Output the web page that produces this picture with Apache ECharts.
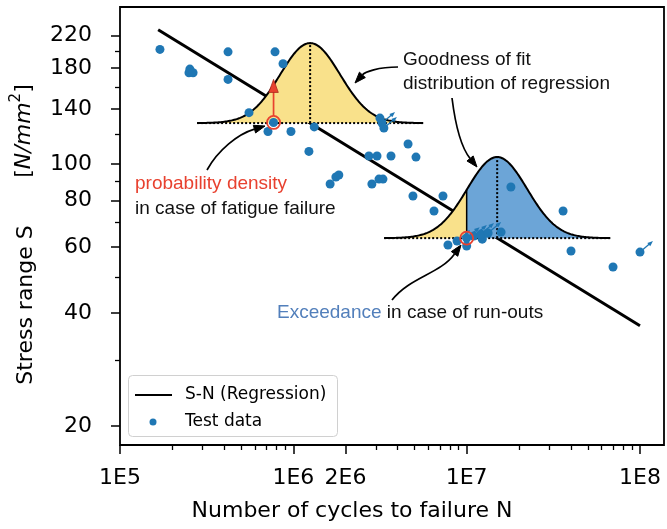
<!DOCTYPE html>
<html><head><meta charset="utf-8">
<script src="https://cdn.jsdelivr.net/npm/echarts@6/dist/echarts.min.js"></script>
<style>html,body{margin:0;padding:0;background:#fff}#c{width:667px;height:529px}</style>
</head><body><div id="c"></div>
<script>
// ---------------- data ----------------
const xLabelValues = [1e5, 1e6, 2e6, 1e7, 1e8];
const xMinorTicks = [2e5,3e5,4e5,5e5,6e5,7e5,8e5,9e5,3e6,4e6,5e6,6e6,7e6,8e6,9e6,2e7,3e7,4e7,5e7,6e7,7e7,8e7,9e7];
const yLabelValues = [20, 40, 60, 80, 100, 140, 180, 220];
const yMinorTicks = [30, 50, 70, 90, 120, 160, 200];

// failures (cycles N, stress range S)
const failN = [1.70e5,2.53e5,2.50e5,2.64e5,4.20e5,4.20e5,7.84e5,8.72e5,5.55e5,7.69e5,
               7.14e5,9.69e5,1.32e6,1.23e6,1.63e6,1.76e6,1.83e6,2.73e6,3.04e6,3.66e6,
               5.10e6,4.59e6,2.84e6,3.12e6,3.29e6,4.90e6,7.30e6,6.48e6,1.80e7,3.60e7,
               7.80e6,1.00e7,1.23e7,1.58e7,4.00e7,6.99e7,3.16e6];
const failS = [202,179,175,175,199,168,199,185,137,129,
               122,122,125.5,108,88.4,92.3,93.4,105,105,105,
               104.3,113,88.4,91.1,91.1,82.1,82.1,74.9,86.8,74.9,
               60.8,60.4,63.0,65.8,58.6,53.1,132.5];
// run-outs
const runN = [3.25e6,3.33e6,8.80e6,1.00e7,1.10e7,1.21e7,1.33e7,1.00e8];
const runS = [128.5,124.6,62.3,63.4,64.2,65.0,65.4,58.2];

// S-N regression line end points
const regN = [1.66e5, 1e8];
const regS = [228, 37];

// distribution curves (normal shape drawn along log N)
const bellTop = {meanN: 1.25e6, baseS: 128.5, peakS: 210, sigma: 0.173, half: 0.652};
const bellLow = {meanN: 1.5e7, baseS: 63.4, peakS: 104.3, sigma: 0.173, half: 0.652, splitN: 1e7};

// highlighted points
const redN = [7.69e5, 1.00e7];
const redS = [129, 63.4];
const redArrowTipS = 168;

// ---------------- styles ----------------
const FONT = "'DejaVu Sans'";
const AFONT = "'Liberation Sans', Arial";
const BLUE = '#1f77b4';
const YELLOW = '#f9e18b';
const FILLBLUE = '#6ca5d7';
const RED = '#e8412f';

const zip = (a, b) => a.map((v, i) => [v, b[i]]);

function bellRender(b, colors) {
  return function (params, api) {
    const lm = Math.log10(b.meanN), lb = Math.log10(b.baseS), lp = Math.log10(b.peakS);
    const curveAt = lx => [Math.pow(10, lx), Math.pow(10, lb + (lp - lb) * Math.exp(-0.5 * Math.pow((lx - lm) / b.sigma, 2)))];
    const l0 = lm - b.half, l1 = lm + b.half;
    const cuts = b.splitN ? [l0, Math.log10(b.splitN), l1] : [l0, l1];
    const children = [];
    for (let k = 0; k < cuts.length - 1; k++) {
      const a = cuts[k], c = cuts[k + 1];
      const pts = [api.coord([Math.pow(10, a), b.baseS])];
      const n = 80;
      for (let i = 0; i <= n; i++) pts.push(api.coord(curveAt(a + (c - a) * i / n)));
      pts.push(api.coord([Math.pow(10, c), b.baseS]));
      children.push({type: 'polygon', shape: {points: pts}, style: {fill: colors[k], stroke: null}});
    }
    const cpts = [];
    for (let i = 0; i <= 200; i++) cpts.push(api.coord(curveAt(l0 + (l1 - l0) * i / 200)));
    const p0 = api.coord([Math.pow(10, l0), b.baseS]), p1 = api.coord([Math.pow(10, l1), b.baseS]);
    children.push({type: 'line', shape: {x1: p0[0], y1: p0[1], x2: p1[0], y2: p1[1]},
      style: {stroke: '#000', lineWidth: 2, lineDash: [2, 2]}});
    const m0 = api.coord([b.meanN, b.baseS]), m1 = api.coord([b.meanN, b.peakS]);
    children.push({type: 'line', shape: {x1: m0[0], y1: m0[1], x2: m1[0], y2: m1[1]},
      style: {stroke: '#000', lineWidth: 2, lineDash: [2, 2]}});
    if (b.splitN) {
      const s0 = api.coord([b.splitN, b.baseS]), s1 = api.coord(curveAt(Math.log10(b.splitN)));
      children.push({type: 'line', shape: {x1: s0[0], y1: s0[1], x2: s1[0], y2: s1[1]},
        style: {stroke: '#000', lineWidth: 1.5}});
    }
    children.push({type: 'polyline', shape: {points: cpts}, style: {stroke: '#000', lineWidth: 2, fill: null}});
    return {type: 'group', children: children};
  };
}

function headPoly(tx, ty, fx, fy, len, w) {
  const dx = tx - fx, dy = ty - fy, L = Math.hypot(dx, dy) || 1;
  const ux = dx / L, uy = dy / L, bx = tx - ux * len, by = ty - uy * len;
  return [[tx, ty], [bx - uy * w / 2, by + ux * w / 2], [bx + uy * w / 2, by - ux * w / 2]];
}

function curvedArrow(x1, y1, c1x, c1y, c2x, c2y, x2, y2) {
  const hp = headPoly(x2, y2, c2x, c2y, 11, 8);
  const bx = (hp[1][0] + hp[2][0]) / 2, by = (hp[1][1] + hp[2][1]) / 2;
  return {type: 'group', children: [
    {type: 'bezierCurve', shape: {x1: x1, y1: y1, cpx1: c1x, cpy1: c1y, cpx2: c2x, cpy2: c2y, x2: bx, y2: by},
      style: {stroke: '#000', lineWidth: 1.7, fill: null}},
    {type: 'polygon', shape: {points: hp}, style: {fill: '#000', stroke: '#000', lineWidth: 1}}
  ]};
}

const chart = echarts.init(document.getElementById('c'), null, {renderer: 'canvas', width: 667, height: 529});

const commonX = {type: 'log', logBase: 10, min: 1e5, max: 1.3756e8, position: 'bottom', gridIndex: 0,
  splitLine: {show: false}, axisLine: {show: false}, minorTick: {show: false}};
const commonY = {type: 'log', logBase: 10, min: 17.80, max: 262.1, position: 'left', gridIndex: 0,
  splitLine: {show: false}, axisLine: {show: false}, minorTick: {show: false}};

const option = {
  animation: false,
  backgroundColor: '#fff',
  grid: {left: 120, top: 7, right: 3, bottom: 84, show: true, borderColor: '#000', borderWidth: 1.8,
    backgroundColor: 'transparent'},
  xAxis: [
    Object.assign({}, commonX, {
      axisTick: {show: true, length: 9, lineStyle: {color: '#000', width: 1.5}, customValues: xLabelValues},
      axisLabel: {show: true, customValues: xLabelValues, margin: 22, color: '#000', fontSize: 22, fontFamily: FONT,
        formatter: v => { const e = Math.floor(Math.log10(v) + 1e-9); return Math.round(v / Math.pow(10, e)) + 'E' + e; }}
    }),
    Object.assign({}, commonX, {
      axisTick: {show: true, length: 5, lineStyle: {color: '#000', width: 1.3}, customValues: xMinorTicks},
      axisLabel: {show: false}
    })
  ],
  yAxis: [
    Object.assign({}, commonY, {
      axisTick: {show: true, length: 9, lineStyle: {color: '#000', width: 1.5}, customValues: yLabelValues},
      axisLabel: {show: true, customValues: yLabelValues, margin: 28, color: '#000', fontSize: 22, fontFamily: FONT,
        formatter: v => String(Math.round(v))}
    }),
    Object.assign({}, commonY, {
      axisTick: {show: true, length: 5, lineStyle: {color: '#000', width: 1.3}, customValues: yMinorTicks},
      axisLabel: {show: false}
    })
  ],
  series: [
    {name: 'S-N (Regression)', type: 'line', xAxisIndex: 0, yAxisIndex: 0, z: 2,
      data: zip(regN, regS), symbol: 'none', lineStyle: {color: '#000', width: 3}},
    {type: 'custom', xAxisIndex: 0, yAxisIndex: 0, z: 3, silent: true,
      data: [[bellTop.meanN, bellTop.baseS]], renderItem: bellRender(bellTop, [YELLOW])},
    {type: 'custom', xAxisIndex: 0, yAxisIndex: 0, z: 3, silent: true,
      data: [[bellLow.meanN, bellLow.baseS]], renderItem: bellRender(bellLow, [YELLOW, FILLBLUE])},
    {name: 'Test data', type: 'scatter', xAxisIndex: 0, yAxisIndex: 0, z: 4,
      data: zip(failN, failS).concat(zip(runN, runS)), symbol: 'circle', symbolSize: 9,
      itemStyle: {color: BLUE, opacity: 1}},
    {type: 'custom', xAxisIndex: 0, yAxisIndex: 0, z: 4, silent: true, data: zip(runN, runS),
      renderItem: function (params, api) {
        const p = api.coord([api.value(0), api.value(1)]);
        const t = [p[0] + 13, p[1] - 11];
        return {type: 'group', children: [
          {type: 'line', shape: {x1: p[0], y1: p[1], x2: t[0] - 3, y2: t[1] + 2.5}, style: {stroke: BLUE, lineWidth: 1.3}},
          {type: 'polygon', shape: {points: headPoly(t[0], t[1], p[0], p[1], 5.5, 4.5)}, style: {fill: BLUE}}
        ]};
      }},
    {type: 'custom', xAxisIndex: 0, yAxisIndex: 0, z: 5, silent: true, data: zip(redN, redS),
      renderItem: function (params, api) {
        const p = api.coord([api.value(0), api.value(1)]);
        return {type: 'circle', shape: {cx: p[0], cy: p[1], r: 6.5}, style: {fill: null, stroke: RED, lineWidth: 1.8}};
      }},
    {type: 'custom', xAxisIndex: 0, yAxisIndex: 0, z: 5, silent: true, data: [[redN[0], redS[0], redArrowTipS]],
      renderItem: function (params, api) {
        const p = api.coord([api.value(0), api.value(1)]);
        const t = api.coord([api.value(0), api.value(2)]);
        return {type: 'group', children: [
          {type: 'line', shape: {x1: p[0], y1: p[1] - 6.5, x2: t[0], y2: t[1] + 12}, style: {stroke: RED, lineWidth: 1.7}},
          {type: 'polygon', shape: {points: headPoly(t[0], t[1], p[0], p[1], 13, 9.5)},
            style: {fill: RED, stroke: '#a8291c', lineWidth: 0.8}}
        ]};
      }}
  ],
  graphic: [
    // axis titles
    {type: 'text', x: 352, y: 511, style: {text: 'Number of cycles to failure N', fontSize: 22, fontFamily: FONT,
      fill: '#000', align: 'center', verticalAlign: 'middle'}},
    {type: 'text', x: 26, y: 305, rotation: Math.PI / 2, style: {text: 'Stress range S', fontSize: 22, fontFamily: FONT,
      fill: '#000', align: 'center', verticalAlign: 'middle'}},
    {type: 'text', x: 24, y: 131, rotation: Math.PI / 2, style: {
      text: '{n|[}{i|N/mm}{s|2}{n|]}', fontSize: 22, fontFamily: FONT, fill: '#000', align: 'center', verticalAlign: 'middle',
      rich: {
        n: {fontSize: 22, fontFamily: FONT, lineHeight: 30, fill: '#000'},
        i: {fontSize: 22, fontFamily: FONT, fontStyle: 'italic', lineHeight: 30, fill: '#000'},
        s: {fontSize: 15, fontFamily: FONT, lineHeight: 16, verticalAlign: 'top', fill: '#000'}
      }}},
    // annotations
    {type: 'text', x: 403, y: 60, style: {text: 'Goodness of fit', fontSize: 19, fontFamily: AFONT, fill: '#111', verticalAlign: 'middle'}},
    {type: 'text', x: 403, y: 84, style: {text: 'distribution of regression', fontSize: 19, fontFamily: AFONT, fill: '#111', verticalAlign: 'middle'}},
    {type: 'text', x: 135, y: 184, style: {text: 'probability density', fontSize: 19, fontFamily: AFONT, fill: RED, verticalAlign: 'middle'}},
    {type: 'text', x: 135, y: 209, style: {text: 'in case of fatigue failure', fontSize: 19, fontFamily: AFONT, fill: '#111', verticalAlign: 'middle'}},
    {type: 'text', x: 277, y: 313, style: {text: '{b|Exceedance} in case of run-outs', fontSize: 19, fontFamily: AFONT,
      fill: '#111', verticalAlign: 'middle', rich: {b: {fill: '#527fbb', fontSize: 19, fontFamily: AFONT}}}},
    curvedArrow(398, 67, 378, 67, 365, 72, 355, 83),
    curvedArrow(452, 98, 455, 122, 460, 146, 477, 167),
    curvedArrow(207, 170, 218, 150, 238, 134, 265, 126),
    curvedArrow(392, 300, 410, 277, 440, 274, 461, 245),
    // legend
    {type: 'rect', shape: {x: 128.5, y: 375.5, width: 209, height: 61, r: 4},
      style: {fill: 'rgba(255,255,255,0.85)', stroke: '#d0d0d0', lineWidth: 1}, z: 100},
    {type: 'line', shape: {x1: 135, y1: 395, x2: 172, y2: 395}, style: {stroke: '#000', lineWidth: 2}, z: 101},
    {type: 'circle', shape: {cx: 153, cy: 422, r: 3.5}, style: {fill: BLUE}, z: 101},
    {type: 'text', x: 185, y: 395, style: {text: 'S-N (Regression)', fontSize: 17, fontFamily: FONT, fill: '#000', verticalAlign: 'middle'}, z: 101},
    {type: 'text', x: 185, y: 422, style: {text: 'Test data', fontSize: 17, fontFamily: FONT, fill: '#000', verticalAlign: 'middle'}, z: 101}
  ]
};
chart.setOption(option);
</script></body></html>
